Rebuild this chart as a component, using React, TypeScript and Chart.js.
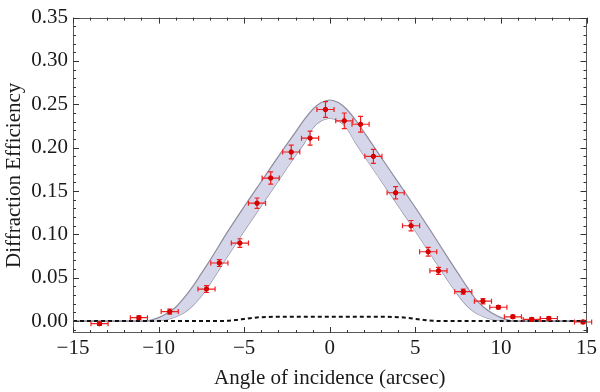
import React, { useEffect, useRef } from 'react';
import { Chart, registerables } from 'chart.js';

Chart.register(...registerables);

// Measured points (angle, efficiency) with error bars
const pointX = [-13.45, -11.15, -9.35, -7.2, -6.45, -5.25, -4.25, -3.45, -2.25, -1.15, -0.25, 0.85, 1.8, 2.55, 3.85, 4.75, 5.75, 6.35, 7.8, 8.95, 9.85, 10.7, 11.8, 12.8, 14.8];
const pointY = [-0.003, 0.004, 0.011, 0.037, 0.067, 0.090, 0.136, 0.165, 0.195, 0.211, 0.244, 0.231, 0.227, 0.190, 0.148, 0.110, 0.080, 0.058, 0.034, 0.023, 0.016, 0.005, 0.002, 0.003, -0.001];
const pointXErr = [0.5, 0.5, 0.5, 0.5, 0.5, 0.5, 0.5, 0.5, 0.5, 0.5, 0.5, 0.5, 0.5, 0.5, 0.5, 0.5, 0.5, 0.5, 0.5, 0.5, 0.5, 0.5, 0.5, 0.5, 0.5];
const pointYErr = [0.002, 0.002, 0.003, 0.004, 0.004, 0.005, 0.006, 0.007, 0.008, 0.008, 0.009, 0.009, 0.009, 0.008, 0.007, 0.006, 0.005, 0.004, 0.003, 0.003, 0.002, 0.002, 0.002, 0.002, 0.002];

// Theory band (upper and lower envelopes)
const bandX = [-15, -12, -11, -10.5, -10, -9.5, -9, -8.5, -8, -7.5, -7, -6, -5, -4, -3, -2, -1.5, -1, -0.5, 0, 0.5, 1, 1.5, 2, 3, 4, 5, 6, 7, 7.5, 8, 8.5, 9, 9.5, 10, 10.5, 11, 12, 15];
const bandUpper = [0, 0, 0, 0.001, 0.004, 0.009, 0.016, 0.027, 0.040, 0.055, 0.070, 0.102, 0.132, 0.161, 0.190, 0.218, 0.232, 0.244, 0.252, 0.255, 0.252, 0.244, 0.232, 0.218, 0.189, 0.160, 0.131, 0.101, 0.070, 0.055, 0.040, 0.026, 0.016, 0.009, 0.004, 0.001, 0, 0, 0];
const bandLower = [0, 0, 0, 0, 0.0005, 0.002, 0.005, 0.010, 0.018, 0.029, 0.043, 0.074, 0.104, 0.133, 0.162, 0.191, 0.205, 0.2225, 0.231, 0.234, 0.231, 0.2225, 0.206, 0.191, 0.162, 0.133, 0.104, 0.074, 0.044, 0.030, 0.018, 0.010, 0.005, 0.002, 0.0005, 0, 0, 0, 0];

// Dashed background curve
const baseX = [-15, -10, -6.5, -6, -5.5, -5, -4.5, -4, -3, 0, 3, 4, 4.5, 5, 5.5, 6, 6.5, 7, 10, 15];
const baseY = [0, 0, 0, 0.0003, 0.0012, 0.0025, 0.0038, 0.0045, 0.005, 0.005, 0.005, 0.0046, 0.0038, 0.0026, 0.0014, 0.0005, 0.0001, 0, 0, 0];

const xTickValues = [-15, -10, -5, 0, 5, 10, 15];
const xTickLabels = ['\u221215', '\u221210', '\u22125', '0', '5', '10', '15'];
const yTickValues = [0, 0.05, 0.1, 0.15, 0.2, 0.25, 0.3, 0.35];
const yTickLabels = ['0.00', '0.05', '0.10', '0.15', '0.20', '0.25', '0.30', '0.35'];

const X_MIN = -15;
const X_MAX = 15;
const Y_MIN = -0.0137;
const Y_MAX = 0.35;
const X_MINOR = 1;
const Y_MINOR = 0.01;

const FONT = "'Liberation Serif', 'Times New Roman', serif";
const TEXT = '#1a1a1a';
const ERR_COLOR = 'rgb(240,30,30)';

const errorBarPlugin = {
  id: 'errorBars',
  beforeDatasetDraw(chart: any, args: any) {
    if (args.index !== 0) return;
    const { ctx, scales } = chart;
    const xs = scales.x;
    const ys = scales.y;
    ctx.save();
    ctx.strokeStyle = ERR_COLOR;
    ctx.lineWidth = 1.2;
    const cap = 2.5;
    pointX.forEach((xv, i) => {
      const yv = pointY[i];
      const px = xs.getPixelForValue(xv);
      const py = ys.getPixelForValue(yv);
      const x1 = xs.getPixelForValue(xv - pointXErr[i]);
      const x2 = xs.getPixelForValue(xv + pointXErr[i]);
      const y1 = ys.getPixelForValue(yv + pointYErr[i]);
      const y2 = ys.getPixelForValue(yv - pointYErr[i]);
      ctx.beginPath();
      ctx.moveTo(x1, py); ctx.lineTo(x2, py);
      ctx.moveTo(x1, py - cap); ctx.lineTo(x1, py + cap);
      ctx.moveTo(x2, py - cap); ctx.lineTo(x2, py + cap);
      ctx.moveTo(px, y1); ctx.lineTo(px, y2);
      ctx.moveTo(px - cap, y1); ctx.lineTo(px + cap, y1);
      ctx.moveTo(px - cap, y2); ctx.lineTo(px + cap, y2);
      ctx.stroke();
    });
    ctx.restore();
  },
};

const framePlugin = {
  id: 'frameTicks',
  afterDraw(chart: any) {
    const { ctx, chartArea, scales } = chart;
    const { left, right, top, bottom } = chartArea;
    const xs = scales.x;
    const ys = scales.y;
    ctx.save();
    ctx.strokeStyle = '#5a5a5a';
    ctx.lineWidth = 1;
    ctx.strokeRect(Math.round(left) + 0.5, Math.round(top) + 0.5, Math.round(right - left) - 1, Math.round(bottom - top) - 1);
    ctx.strokeStyle = '#333';
    ctx.beginPath();
    const nx = Math.round((X_MAX - X_MIN) / X_MINOR);
    for (let k = 0; k <= nx; k++) {
      const v = X_MIN + k * X_MINOR;
      const major = Math.abs(v % 5) < 1e-9;
      const len = major ? 6 : 3;
      const px = Math.round(xs.getPixelForValue(v)) + 0.5;
      ctx.moveTo(px, bottom); ctx.lineTo(px, bottom - len);
      ctx.moveTo(px, top); ctx.lineTo(px, top + len);
    }
    const ny = Math.floor((Y_MAX - 0) / Y_MINOR + 1e-6);
    for (let k = -1; k <= ny; k++) {
      const v = k * Y_MINOR;
      if (v < Y_MIN) continue;
      const major = k % 5 === 0;
      const len = major ? 6 : 3;
      const py = Math.round(ys.getPixelForValue(v)) + 0.5;
      ctx.moveTo(left, py); ctx.lineTo(left + len, py);
      ctx.moveTo(right, py); ctx.lineTo(right - len, py);
    }
    ctx.stroke();
    ctx.restore();
  },
};

export default function App() {
  const canvasRef = useRef<HTMLCanvasElement | null>(null);

  useEffect(() => {
    if (!canvasRef.current) return;
    const chart = new Chart(canvasRef.current, {
      type: 'line',
      data: {
        datasets: [
          {
            type: 'scatter',
            label: 'Measured',
            data: pointX.map((x, i) => ({ x, y: pointY[i] })),
            pointRadius: 2.2,
            pointBackgroundColor: 'rgb(220,0,0)',
            pointBorderColor: 'rgb(200,0,0)',
            pointBorderWidth: 1,
            showLine: false,
          } as any,
          {
            label: 'Background',
            data: baseX.map((x, i) => ({ x, y: baseY[i] })),
            borderColor: '#111',
            borderWidth: 2,
            borderDash: [4, 3],
            pointRadius: 0,
            fill: false,
            cubicInterpolationMode: 'monotone',
          },
          {
            label: 'Upper',
            data: bandX.map((x, i) => ({ x, y: bandUpper[i] })),
            borderColor: 'rgb(140,140,158)',
            borderWidth: 1.2,
            backgroundColor: 'rgb(214,214,234)',
            pointRadius: 0,
            fill: '+1',
            cubicInterpolationMode: 'monotone',
          },
          {
            label: 'Lower',
            data: bandX.map((x, i) => ({ x, y: bandLower[i] })),
            borderColor: 'rgb(140,140,158)',
            borderWidth: 1.2,
            pointRadius: 0,
            fill: false,
            cubicInterpolationMode: 'monotone',
          },
        ],
      },
      options: {
        animation: false,
        responsive: false,
        maintainAspectRatio: false,
        layout: { padding: { top: 15, right: 12, left: 0, bottom: 0 } },
        plugins: {
          legend: { display: false },
          tooltip: { enabled: false },
        },
        scales: {
          x: {
            type: 'linear',
            min: X_MIN,
            max: X_MAX,
            grid: { display: false, drawTicks: false },
            border: { display: false },
            afterBuildTicks: (s: any) => { s.ticks = xTickValues.map((v) => ({ value: v })); },
            afterFit: (s: any) => { s.height = 59; },
            ticks: {
              autoSkip: false,
              maxRotation: 0,
              padding: 3,
              color: TEXT,
              font: { family: FONT, size: 21 },
              callback: (v: any) => xTickLabels[xTickValues.indexOf(Number(v))] ?? '',
            },
            title: {
              display: true,
              text: 'Angle of incidence (arcsec)',
              color: TEXT,
              font: { family: FONT, size: 21 },
              padding: { top: 0, bottom: 1 },
            },
          },
          y: {
            type: 'linear',
            min: Y_MIN,
            max: Y_MAX,
            grid: { display: false, drawTicks: false },
            border: { display: false },
            afterBuildTicks: (s: any) => { s.ticks = yTickValues.map((v) => ({ value: v })); },
            afterFit: (s: any) => { s.width = 73; },
            ticks: {
              autoSkip: false,
              padding: 5,
              color: TEXT,
              font: { family: FONT, size: 21 },
              callback: (v: any) => {
                const idx = yTickValues.findIndex((t) => Math.abs(t - Number(v)) < 1e-9);
                return idx >= 0 ? yTickLabels[idx] : '';
              },
            },
            title: {
              display: true,
              text: 'Diffraction Efficiency',
              color: TEXT,
              font: { family: FONT, size: 21 },
              padding: { top: 2, bottom: 0 },
            },
          },
        },
      },
      plugins: [errorBarPlugin, framePlugin],
    } as any);
    return () => chart.destroy();
  }, []);

  return (
    <div style={{ position: 'absolute', left: 0, top: 0, width: 600, height: 392, background: '#fff' }}>
      <canvas ref={canvasRef} width={600} height={392} style={{ display: 'block' }} />
    </div>
  );
}
